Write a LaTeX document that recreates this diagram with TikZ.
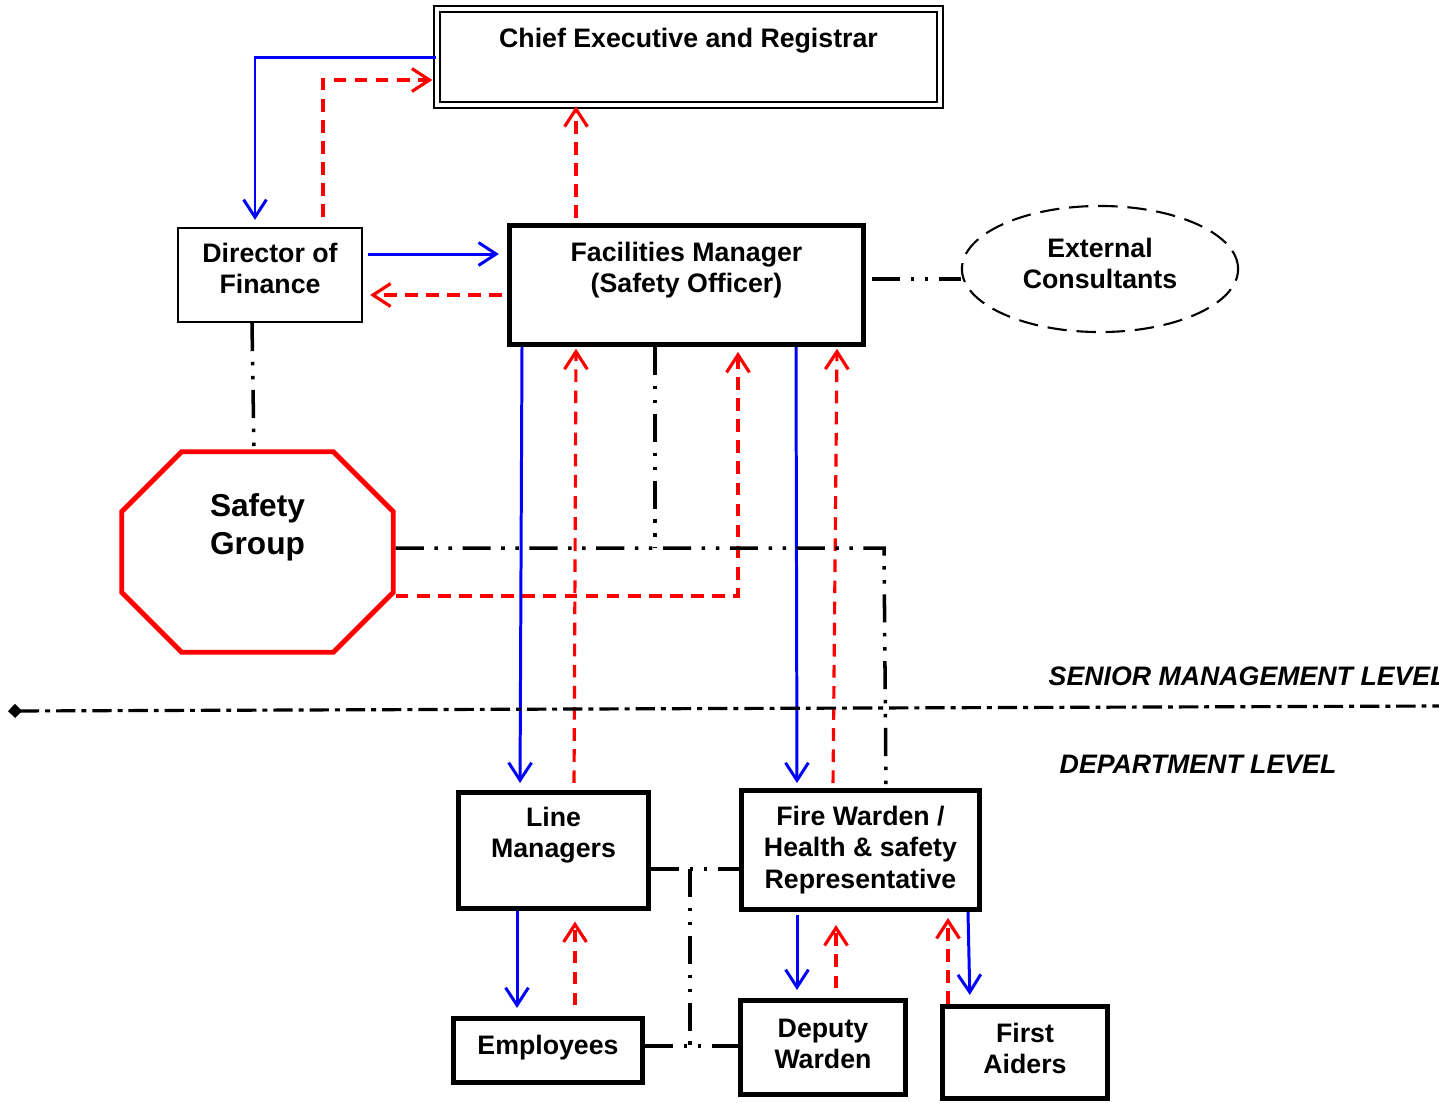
\documentclass[tikz,border=0pt]{standalone}
\usepackage{fontspec}
\setmainfont{Liberation Sans}
\usepackage{xcolor}
\usepackage{tikz}
\usetikzlibrary{arrows.meta,shapes}

\tikzset{
	txt/.style={align=center,inner sep=1pt,font=\fontsize{7.6}{9}\selectfont\bfseries},
	thinbox/.style={draw,line width=0.6pt},
	thickbox/.style={draw,line width=1.4pt},
	ctrl/.style={->,blue,line width=0.85pt},
	rep/.style={->,red,line width=0.9pt,dash pattern=on 3.6pt off 2.4pt},
	liaise/.style={line width=1pt,dash pattern=on 8pt off 3pt on 1pt off 3pt on 1pt off 3pt},
	lvl/.style={anchor=west,inner sep=0pt,font=\fontsize{7.6}{9}\selectfont\bfseries\itshape},
	>={Straight Barb[length=5pt,width=6.5pt]}
}

\begin{document}
\begin{tikzpicture}[x=0.01cm,y=-0.01cm]
	\useasboundingbox (0,0) rectangle (1439,1102);
	\node[draw,double,line width=0.55pt,double distance=1.1pt,minimum width=5.03cm,minimum height=0.963cm,
		label={[txt,yshift=0.16cm]center:Chief Executive and Registrar}] (CE) at (688.5,57) {};
	\node[thinbox,minimum width=1.84cm,minimum height=0.94cm,
		label={[txt,yshift=0.065cm]center:Director of\\Finance}] (DF) at (270,275) {};
	\node[thickbox,minimum width=3.54cm,minimum height=1.19cm,
		label={[txt,yshift=0.15cm]center:Facilities Manager\\(Safety Officer)}] (FM) at (686.5,285) {};
	\node[ellipse,draw,line width=0.6pt,dash pattern=on 5.5pt off 2.8pt,minimum width=2.76cm,minimum height=1.26cm,
		label={[txt,yshift=0.055cm]center:External\\Consultants}] (EC) at (1100,269) {};
	\node[minimum width=2.7cm,minimum height=1.99cm,inner sep=0pt,
		label={[align=center,font=\fontsize{9}{10.8}\selectfont\bfseries,yshift=0.25cm]center:Safety\\Group}] (SG) at (257.5,552) {};
	\draw[red,line width=1.4pt] ([shift={(60,0)}]SG.north west) -- ([shift={(-60,0)}]SG.north east)
		-- ([shift={(0,60)}]SG.north east) -- ([shift={(0,-60)}]SG.south east)
		-- ([shift={(-60,0)}]SG.south east) -- ([shift={(60,0)}]SG.south west)
		-- ([shift={(0,-60)}]SG.south west) -- ([shift={(0,60)}]SG.north west) -- cycle;
	\node[lvl] (SML) at (1048,676) {SENIOR MANAGEMENT LEVEL};
	\node[lvl] (DL) at (1059,764) {DEPARTMENT LEVEL};
	\node[thickbox,minimum width=1.9cm,minimum height=1.16cm,
		label={[txt,yshift=0.155cm]center:Line\\Managers}] (LM) at (553.5,850.5) {};
	\node[thickbox,minimum width=2.38cm,minimum height=1.19cm,
		label={[txt]center:Fire Warden /\\Health \& safety\\Representative}] (FW) at (860.5,850) {};
	\node[thickbox,minimum width=1.89cm,minimum height=0.64cm,
		label={[txt,yshift=0.03cm]center:Employees}] (EM) at (548,1050.5) {};
	\node[thickbox,minimum width=1.65cm,minimum height=0.94cm,
		label={[txt,yshift=0.035cm]center:Deputy\\Warden}] (DW) at (823,1047.5) {};
	\node[thickbox,minimum width=1.65cm,minimum height=0.92cm,
		label={[txt,yshift=0.04cm]center:First\\Aiders}] (FA) at (1025,1052.5) {};
	%
	\coordinate (Ja) at (655,548);
	\coordinate (Jb) at (884,548);
	\coordinate (Jc) at (690,869);
	\coordinate (Jd) at (690,1046);
	\coordinate (Lend) at (8,711);
	\coordinate (Rend) at (1439,706);
	%
	\draw[ctrl,shorten >=2pt] (CE.west) -| (DF.north -| 255,0);
	\draw[rep,shorten <=2.8pt,shorten >=1pt] (DF.north -| 323,0) |- (CE.west |- 0,80);
	\draw[rep,shorten <=0.7pt,shorten >=1.4pt] (SG.east |- 0,596) -| (FM.south -| 738,0);
	\path[ctrl]
	(DF.east |- 0,254) edge[shorten <=1.4pt,shorten >=2.3pt] (FM.west |- 0,254)
	(FM.south -| 522,0) edge[shorten >=2pt] (LM.north -| 520,0)
	(FM.south -| 796,0) edge[shorten >=1.4pt] (FW.north -| 797,0)
	(LM.south -| 517,0) edge[shorten >=2.3pt] (EM.north -| 517,0)
	(FW.south -| 797,0) edge[shorten <=0.8pt,shorten >=2.3pt] (DW.north -| 797,0)
	(FW.south -| 968,0) edge[shorten >=2.6pt] (FA.north -| 970,0);
	\path[rep]
	(FM.north -| 576,0) edge[shorten <=1.4pt] (CE.south -| 576,0)
	(FM.west |- 0,295) edge[shorten <=1.4pt,shorten >=2pt] (DF.east |- 0,295)
	(LM.north -| 574,0) edge[shorten <=2pt,shorten >=0.5pt] (FM.south -| 576,0)
	(FW.north -| 833,0) edge[shorten <=1.4pt,shorten >=0.5pt] (FM.south -| 837,0)
	(EM.north -| 575,0) edge[shorten <=3pt,shorten >=3pt] (LM.south -| 575,0)
	(DW.north -| 836,0) edge[shorten <=2.8pt,shorten >=3.7pt] (FW.south -| 836,0)
	(FA.north -| 948,0) edge[shorten >=1.7pt] (FW.south -| 948,0);
	%
	\draw[liaise,shorten <=1.7pt] (FM.east |- 0,279) -- (EC.west |- 0,279);
	\draw[liaise] (DF.south -| 252,0) -- (SG.north -| 254,0);
	\draw[liaise,shorten <=0.7pt] (SG.east |- Jb) -- (Jb) -- (FW.north -| 886,0);
	\draw[liaise] (FM.south -| Ja) -- (Ja);
	\draw[liaise] (LM.east |- Jc) -- (Jc) -- (FW.west |- Jc);
	\draw[liaise] (EM.east |- Jd) -- (Jd) -- (DW.west |- Jd);
	\draw[liaise] (Jc) -- (Jd);
	\draw[{Diamond[length=4pt,width=4pt]}-,line width=0.9pt,dash pattern=on 5.5pt off 1.7pt on 1.4pt off 1.7pt] (Lend) -- (Rend);
\end{tikzpicture}
\end{document}
